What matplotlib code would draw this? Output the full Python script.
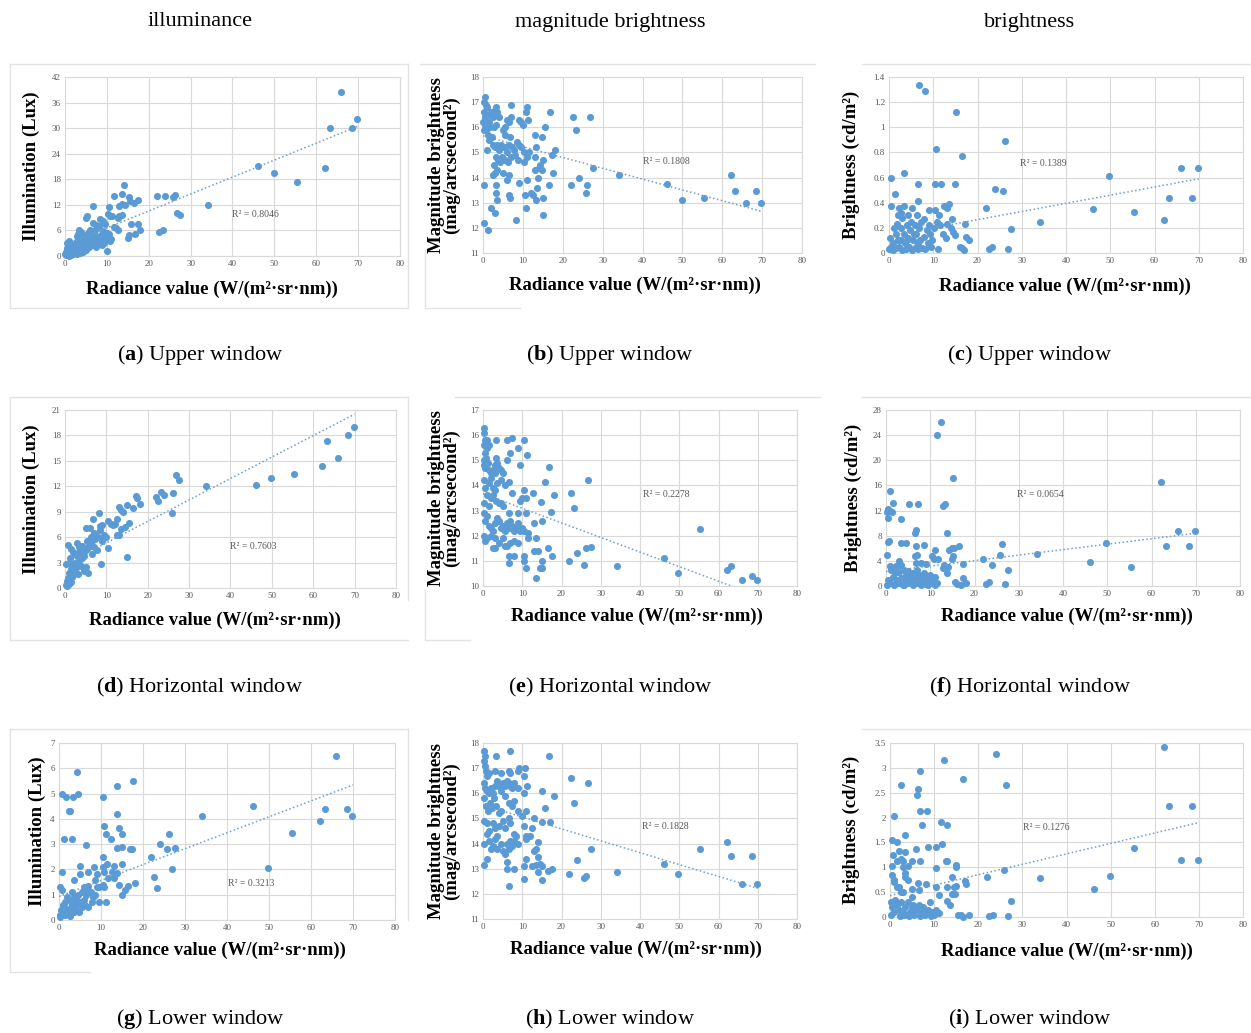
import matplotlib
matplotlib.use("Agg")
import matplotlib.pyplot as plt
from matplotlib.lines import Line2D
from matplotlib.ticker import FuncFormatter, MultipleLocator

plt.rcParams['font.family'] = ['Liberation Serif', 'DejaVu Serif']
plt.rcParams['mathtext.fontset'] = 'custom'
plt.rcParams['mathtext.rm'] = 'Liberation Serif'
plt.rcParams['mathtext.bf'] = 'Liberation Serif:bold'

W, H = 1251, 1033

# radiance of the bright sites (same sites in every panel)
rad_far = [22.0, 22.5, 23.3, 24.0, 25.8, 26.2, 26.8, 27.5, 34.1, 46.2, 49.8, 55.4, 62.2, 63.3, 66.0, 68.5, 69.8]

# (a) illumination, upper window
a_far = [14.0, 5.7, 6.2, 14.0, 13.8, 14.4, 10.0, 9.6, 12.0, 21.2, 19.4, 17.3, 20.7, 30.0, 38.5, 30.0, 32.2]
a_x = [14.0, 13.7, 11.8, 15.3, 17.5, 15.5, 16.5, 14.3, 13.0, 13.5, 10.5, 6.6, 5.0, 5.3, 10.3, 10.8, 11.3, 13.0, 13.6, 12.7,
       8.4, 9.0, 6.8, 7.4, 8.0, 9.5, 15.7, 17.4, 11.7, 12.2, 12.7, 18.0, 16.8, 15.0, 15.2, 10.0, 10.5, 10.0, 9.5, 11.0,
       10.8, 3.3, 3.0, 3.8, 2.8, 4.3, 5.0, 5.5, 6.0, 6.4, 7.0, 7.5, 8.0, 8.5, 9.0, 7.2, 7.8, 8.8, 9.3, 6.5,
       6.0, 5.5, 6.2, 1.0, 1.3, 0.5, 0.8, 1.5, 2.0, 2.3, 2.6, 3.0, 3.3, 3.7, 4.0, 4.5, 4.8, 5.2, 4.2, 3.5,
       2.8, 2.2, 1.7, 1.2, 0.8, 0.4, 0.2, 0.6, 1.0, 1.4, 2.0, 2.5, 3.0, 3.8, 4.5, 5.0, 0.3, 1.8, 0.1, 5.8,
       6.8, 7.5, 2.8, 1.5, 0.9, 3.5, 4.2, 4.6, 5.6, 6.6, 7.6, 8.6, 9.6, 3.6, 2.4, 1.1, 0.5, 6.9, 8.2, 9.8]
a_y = [16.7, 14.5, 14.0, 13.8, 13.1, 12.8, 12.4, 12.0, 11.8, 12.2, 11.4, 11.7, 9.0, 9.5, 9.8, 9.5, 9.3, 9.4, 9.6, 8.8,
       8.6, 8.2, 7.7, 7.2, 7.0, 7.5, 7.5, 7.5, 6.8, 6.5, 6.0, 6.2, 5.1, 4.3, 4.9, 1.1, 5.2, 5.5, 5.0, 4.0,
       3.5, 6.1, 5.2, 5.6, 4.7, 4.5, 4.8, 5.3, 6.0, 5.9, 5.5, 6.3, 4.5, 5.0, 5.8, 3.8, 3.2, 2.5, 3.0, 3.5,
       2.8, 3.8, 4.2, 3.5, 3.0, 1.8, 2.5, 2.3, 2.8, 2.0, 3.2, 3.8, 2.6, 3.3, 4.0, 3.5, 3.0, 2.6, 2.2, 1.8,
       1.5, 1.2, 1.0, 0.8, 0.6, 0.4, 0.2, 1.2, 1.6, 1.3, 0.5, 0.8, 1.1, 1.5, 1.8, 1.5, 0.9, 1.9, 0.5, 2.2,
       2.6, 2.2, 0.4, 0.2, 0.1, 0.7, 0.9, 4.1, 4.4, 4.8, 4.2, 4.0, 4.6, 2.3, 2.4, 2.6, 3.0, 3.2, 3.4, 3.9]

# (b) magnitude brightness, upper window
b_far = [13.7, 16.4, 15.9, 14.0, 13.4, 13.7, 16.4, 14.4, 14.1, 13.75, 13.1, 13.2, 14.1, 13.45, 13.0, 13.45, 13.0]
b_x = [0.5, 0.2, 0.8, 0.3, 0.6, 1.0, 1.3, 0.2, 0.4, 0.7, 1.0, 1.5, 1.8, 2.0, 2.5, 3.0, 3.2, 3.5, 4.0, 3.3,
       2.8, 1.2, 1.6, 2.2, 2.4, 0.3, 0.1, 7.0, 11.0, 10.8, 16.8, 9.0, 9.5, 10.0, 11.3, 6.0, 6.5, 5.5, 7.0, 15.6,
       5.0, 5.5, 13.0, 14.8, 18.0, 13.2, 6.8, 1.0, 3.0, 3.5, 4.0, 4.5, 5.0, 5.5, 6.0, 6.5, 7.2, 7.8, 8.5, 9.0,
       9.5, 10.2, 11.0, 11.5, 3.2, 3.8, 4.3, 4.8, 5.5, 6.2, 7.0, 8.0, 8.8, 10.3, 13.0, 14.2, 15.0, 17.2, 2.8, 3.5,
       2.5, 3.0, 14.0, 14.8, 13.8, 17.5, 13.0, 6.5, 6.0, 9.0, 11.0, 16.5, 13.5, 5.0, 0.3, 3.2, 3.3, 3.5, 6.5, 6.8,
       10.5, 12.0, 12.5, 13.3, 15.0, 2.0, 3.0, 10.8, 8.2, 15.0, 0.3, 1.3]
b_y = [17.2, 17.0, 16.9, 16.6, 16.4, 16.8, 16.5, 16.2, 16.0, 15.9, 16.1, 16.2, 16.0, 16.6, 16.4, 16.7, 16.8, 16.6, 16.4, 16.1,
       16.0, 15.7, 15.5, 15.6, 15.3, 15.9, 16.2, 16.9, 16.8, 16.6, 16.6, 16.3, 16.2, 16.1, 16.3, 16.3, 16.2, 16.0, 16.4, 16.0,
       15.9, 15.7, 15.7, 15.6, 15.1, 15.2, 15.6, 15.1, 15.2, 15.3, 15.1, 15.3, 15.2, 15.2, 15.0, 15.3, 15.2, 15.1, 15.4, 15.3,
       15.2, 15.0, 14.8, 15.0, 14.8, 14.7, 14.6, 14.8, 14.7, 14.6, 14.8, 14.9, 14.7, 14.6, 14.8, 14.5, 14.7, 14.9, 14.5, 14.3,
       14.1, 14.2, 14.4, 14.3, 14.0, 14.2, 14.3, 14.1, 13.9, 13.8, 13.9, 13.7, 13.6, 14.2, 13.7, 13.7, 13.4, 13.1, 13.3, 13.2,
       13.3, 13.4, 13.3, 13.1, 13.2, 12.8, 12.6, 12.8, 12.3, 12.5, 12.2, 11.9]

# (c) brightness, upper window
c_far = [0.36, 0.03, 0.05, 0.51, 0.49, 0.89, 0.03, 0.19, 0.25, 0.35, 0.61, 0.33, 0.26, 0.44, 0.68, 0.44, 0.68]
c_x = [6.8, 8.2, 15.2, 10.6, 16.4, 0.4, 3.5, 6.5, 10.3, 11.8, 14.9, 1.4, 0.5, 6.6, 2.3, 3.3, 5.3, 13.6, 13.0, 12.5,
       9.0, 10.5, 2.8, 6.3, 11.2, 14.2, 7.8, 17.2, 10.8, 13.0, 11.5, 14.0, 14.5, 15.0, 16.0, 16.5, 17.0, 18.0, 17.5, 11.0,
       9.5, 12.2, 12.8, 0.3, 0.5, 0.8, 1.2, 1.5, 1.8, 2.0, 2.3, 2.6, 3.0, 3.3, 3.6, 4.0, 4.2, 4.5, 4.8, 5.0,
       5.5, 5.8, 6.0, 6.2, 6.8, 7.0, 7.5, 8.0, 8.5, 8.8, 9.2, 9.8, 10.2, 1.0, 2.0, 3.8, 5.2, 6.6, 7.3, 0.1,
       1.6, 2.8, 4.4, 5.6, 8.2, 9.0, 3.0, 4.0, 6.5]
c_y = [1.34, 1.29, 1.12, 0.83, 0.77, 0.60, 0.64, 0.55, 0.55, 0.55, 0.55, 0.47, 0.37, 0.41, 0.36, 0.37, 0.36, 0.39, 0.36, 0.37,
       0.34, 0.34, 0.32, 0.30, 0.30, 0.27, 0.27, 0.23, 0.25, 0.23, 0.22, 0.20, 0.17, 0.14, 0.05, 0.04, 0.02, 0.10, 0.13, 0.03,
       0.05, 0.15, 0.12, 0.12, 0.05, 0.02, 0.20, 0.15, 0.23, 0.10, 0.05, 0.20, 0.28, 0.15, 0.08, 0.22, 0.12, 0.05, 0.18, 0.25,
       0.10, 0.22, 0.05, 0.15, 0.20, 0.10, 0.04, 0.13, 0.18, 0.08, 0.15, 0.10, 0.20, 0.08, 0.30, 0.03, 0.02, 0.03, 0.25, 0.03,
       0.04, 0.10, 0.30, 0.15, 0.03, 0.22, 0.02, 0.10, 0.08]

# (d) illumination, horizontal window
d_far = [10.7, 10.3, 11.3, 11.0, 8.8, 11.2, 13.3, 12.7, 12.0, 12.1, 13.0, 13.4, 14.4, 17.4, 15.3, 18.1, 19.0]
d_x = [8.3, 6.8, 9.0, 8.5, 10.5, 11.0, 11.5, 12.5, 13.0, 13.5, 14.0, 15.0, 17.2, 17.5, 18.2, 16.5, 15.5, 13.5, 12.5, 13.0,
       14.5, 12.0, 10.0, 10.5, 15.0, 8.8, 7.8, 5.0, 6.0, 7.0, 7.5, 8.0, 9.0, 9.5, 8.5, 6.5, 6.0, 5.5, 5.0, 4.5,
       4.0, 3.5, 3.0, 4.2, 5.2, 6.2, 7.2, 4.5, 4.0, 3.5, 3.0, 2.5, 2.8, 2.2, 2.0, 1.5, 1.0, 0.8, 1.2, 0.5,
       0.3, 0.6, 1.0, 1.5, 1.8, 2.0, 2.5, 0.2, 1.0, 0.7, 1.5, 5.5, 5.0, 4.5, 3.2, 3.8, 6.5, 7.0, 2.0, 2.5,
       3.5, 1.3]
d_y = [8.8, 8.1, 7.4, 7.3, 7.9, 7.5, 7.4, 8.1, 9.5, 9.2, 9.0, 9.8, 10.8, 10.6, 9.9, 9.4, 7.7, 7.0, 6.2, 6.2,
       7.2, 7.6, 6.0, 4.7, 3.7, 2.8, 4.5, 7.1, 7.1, 6.5, 6.2, 6.0, 5.5, 6.3, 6.8, 5.5, 5.0, 4.8, 4.5, 4.3,
       4.5, 4.8, 5.3, 5.0, 5.5, 6.0, 5.8, 3.8, 3.5, 3.2, 3.8, 3.0, 2.5, 2.0, 2.8, 2.2, 1.8, 1.2, 1.0, 0.8,
       0.4, 0.2, 0.5, 0.7, 1.3, 1.5, 1.8, 2.8, 2.9, 5.1, 4.6, 1.8, 2.5, 2.0, 1.6, 2.6, 4.0, 4.8, 4.2, 4.0,
       4.2, 3.5]

# (e) magnitude brightness, horizontal window
e_far = [11.0, 13.7, 13.1, 11.3, 10.85, 11.5, 14.2, 11.55, 10.8, 11.1, 10.5, 12.25, 10.65, 10.8, 10.25, 10.4, 10.25]
e_x = [0.2, 0.3, 0.5, 1.0, 1.5, 0.2, 0.6, 1.0, 0.3, 0.8, 1.2, 0.2, 0.5, 1.5, 2.0, 2.5, 3.0, 3.2, 3.5, 4.0,
       4.5, 3.0, 5.0, 3.3, 6.0, 7.5, 10.5, 8.8, 7.0, 6.0, 11.2, 9.5, 16.7, 0.2, 1.5, 2.0, 2.5, 3.5, 4.5, 6.5,
       5.5, 15.7, 7.5, 0.5, 1.0, 0.3, 1.5, 2.0, 2.5, 3.0, 3.3, 4.0, 4.5, 5.0, 6.5, 7.0, 9.0, 9.5, 10.0, 10.5,
       11.0, 12.8, 14.8, 18.2, 17.3, 11.0, 13.0, 0.2, 0.5, 1.0, 1.5, 2.0, 2.5, 3.0, 3.5, 4.0, 4.5, 5.0, 5.5, 6.0,
       6.5, 7.5, 8.0, 8.5, 9.0, 9.5, 10.0, 10.5, 11.5, 15.0, 0.2, 0.5, 1.0, 2.0, 3.0, 4.0, 5.0, 6.0, 7.0, 8.0,
       9.0, 11.5, 13.5, 2.5, 3.0, 5.5, 6.5, 8.0, 10.5, 10.5, 13.0, 14.0, 16.5, 17.5, 15.0, 15.0, 6.5, 11.0, 14.5, 13.5]
e_y = [16.3, 16.1, 15.8, 15.8, 15.6, 15.6, 15.3, 15.5, 15.0, 15.1, 14.9, 14.8, 14.7, 14.6, 14.5, 14.6, 14.8, 15.1, 14.9, 14.7,
       14.6, 14.5, 14.5, 15.8, 15.8, 15.9, 15.8, 15.5, 15.3, 15.0, 15.2, 14.8, 14.75, 14.2, 14.1, 14.3, 13.9, 14.1, 14.2, 14.15,
       14.0, 14.15, 13.7, 13.9, 13.6, 13.3, 13.2, 13.5, 13.6, 13.8, 13.4, 13.3, 13.3, 13.2, 12.9, 12.6, 12.9, 13.4, 13.5, 13.8,
       13.5, 13.7, 13.35, 13.6, 12.95, 12.9, 12.5, 12.9, 12.6, 12.8, 12.4, 12.3, 12.2, 12.5, 12.7, 12.6, 12.3, 12.4, 12.2, 12.5,
       12.3, 12.4, 12.2, 12.3, 12.5, 12.2, 12.3, 12.2, 12.1, 12.6, 12.0, 11.8, 11.9, 12.0, 11.9, 11.7, 11.9, 11.6, 11.7, 11.8,
       11.7, 11.9, 11.9, 11.5, 11.5, 11.6, 11.2, 11.2, 11.0, 11.2, 11.4, 11.4, 11.5, 11.2, 11.0, 10.7, 10.9, 10.7, 10.7, 10.3]

# (f) brightness, horizontal window
f_far = [4.3, 0.3, 0.6, 3.3, 5.0, 6.7, 0.3, 2.6, 5.1, 3.8, 6.8, 3.1, 16.5, 6.3, 8.7, 6.3, 8.7]
f_x = [12.5, 11.6, 15.2, 0.8, 0.5, 0.8, 0.3, 1.3, 0.5, 1.5, 5.2, 7.3, 12.9, 13.3, 3.3, 0.5, 0.6, 6.5, 6.7, 13.7,
       3.5, 4.5, 6.8, 8.5, 16.6, 15.0, 15.3, 14.3, 0.2, 6.5, 7.0, 11.0, 10.5, 10.8, 11.8, 15.0, 15.2, 17.5, 13.0, 13.5,
       13.8, 14.0, 12.8, 8.0, 9.0, 6.8, 2.2, 3.0, 3.5, 0.8, 1.2, 2.0, 2.5, 3.0, 4.0, 4.5, 5.0, 5.5, 6.0, 7.0,
       7.5, 8.0, 8.5, 9.0, 9.5, 10.0, 10.5, 11.0, 11.5, 0.5, 1.0, 1.5, 2.0, 2.5, 3.0, 3.5, 4.0, 4.5, 5.0, 5.5,
       6.0, 6.5, 7.0, 7.5, 8.0, 8.5, 9.0, 9.5, 10.0, 11.0, 0.2, 1.8, 3.8, 15.5, 16.0, 17.0, 17.3, 18.0]
f_y = [26.1, 24.0, 17.2, 15.1, 12.3, 12.0, 11.8, 11.7, 10.8, 13.2, 13.0, 13.1, 12.8, 13.0, 10.6, 7.0, 7.2, 8.5, 8.9, 8.4,
       6.8, 6.8, 6.3, 6.5, 6.4, 6.0, 6.1, 5.8, 5.0, 4.8, 5.0, 5.8, 4.8, 4.3, 4.3, 4.3, 4.7, 3.5, 3.3, 3.0,
       2.0, 3.1, 2.9, 3.7, 3.5, 3.7, 3.2, 4.0, 3.3, 3.2, 2.5, 2.0, 2.8, 2.3, 2.5, 1.8, 2.4, 1.5, 2.0, 2.6,
       1.7, 1.2, 2.0, 1.5, 1.0, 1.7, 0.8, 1.4, 0.5, 1.0, 0.5, 1.5, 0.3, 1.0, 0.5, 1.3, 0.2, 0.8, 0.4, 0.9,
       0.2, 1.3, 0.4, 0.8, 0.2, 0.6, 0.3, 0.1, 0.5, 0.2, 0.2, 0.1, 0.1, 0.6, 0.3, 0.2, 1.3, 0.4]

# (g) illumination, lower window
g_far = [2.5, 1.7, 1.25, 3.0, 2.8, 3.4, 2.0, 2.85, 4.1, 4.5, 2.05, 3.45, 3.9, 4.4, 6.5, 4.4, 4.1]
g_x = [4.3, 17.5, 13.7, 0.8, 4.6, 1.7, 3.3, 10.5, 2.4, 2.6, 13.7, 10.6, 14.3, 11.2, 15.0, 12.4, 1.1, 3.2, 6.5, 13.8,
       15.0, 16.8, 17.3, 10.4, 0.8, 5.0, 8.3, 11.5, 13.2, 15.0, 10.5, 3.5, 7.0, 9.0, 4.9, 12.5, 13.0, 13.7, 11.7, 10.8,
       0.3, 0.6, 14.3, 10.5, 10.7, 16.5, 18.0, 15.0, 15.8, 11.3, 9.5, 9.0, 8.5, 8.0, 7.5, 7.0, 6.5, 6.0, 5.5, 5.0,
       4.5, 4.0, 3.5, 3.0, 2.5, 2.0, 1.5, 1.0, 0.5, 0.3, 0.8, 1.2, 1.8, 2.2, 2.8, 3.2, 3.8, 4.2, 4.8, 5.5,
       6.2, 7.0, 7.8, 0.2, 1.5, 2.5, 3.5, 6.0, 6.8, 8.5, 9.5]
g_y = [5.85, 5.5, 5.3, 5.0, 5.0, 4.85, 4.85, 4.85, 4.3, 4.3, 4.2, 3.7, 3.65, 3.4, 3.4, 3.2, 3.2, 3.2, 2.95, 2.85,
       2.9, 2.8, 2.8, 2.5, 1.9, 2.15, 2.1, 2.2, 2.15, 2.2, 2.1, 1.6, 1.9, 1.8, 1.8, 1.9, 1.65, 1.85, 1.65, 1.9,
       1.3, 1.2, 1.4, 1.4, 1.3, 1.35, 1.45, 1.0, 1.2, 0.7, 0.7, 1.3, 1.0, 0.9, 1.1, 1.2, 1.0, 0.8, 1.1, 0.7,
       1.0, 0.8, 0.9, 1.1, 0.8, 0.9, 0.7, 0.6, 0.4, 0.2, 0.3, 0.5, 0.4, 0.3, 0.5, 0.6, 0.4, 0.6, 0.3, 0.5,
       0.6, 0.5, 0.7, 0.1, 0.2, 0.15, 0.3, 1.3, 1.35, 1.6, 1.3]

# (h) magnitude brightness, lower window
h_far = [12.8, 16.6, 15.6, 13.35, 12.65, 12.7, 16.4, 13.8, 12.85, 13.2, 12.8, 13.8, 14.05, 13.5, 12.4, 13.5, 12.4]
h_x = [0.2, 0.4, 0.3, 0.5, 3.3, 6.8, 16.7, 0.8, 1.0, 1.5, 3.0, 4.5, 6.5, 7.0, 8.8, 9.2, 10.7, 10.5, 0.2, 0.5,
       1.0, 1.5, 2.0, 2.5, 3.0, 3.5, 4.0, 4.5, 5.0, 5.5, 6.0, 6.5, 7.0, 7.5, 8.0, 9.0, 10.5, 11.2, 15.0, 18.0,
       0.3, 0.8, 1.2, 1.8, 2.2, 2.8, 3.2, 4.0, 4.5, 5.5, 6.5, 7.5, 8.0, 9.0, 10.0, 11.0, 15.8, 0.3, 1.0, 1.5,
       2.5, 3.0, 3.5, 4.0, 5.0, 5.5, 6.5, 7.0, 8.0, 8.5, 10.5, 11.0, 12.5, 13.0, 15.0, 17.0, 0.3, 1.0, 1.5, 2.0,
       2.5, 3.0, 3.5, 4.5, 5.0, 5.5, 6.0, 6.5, 7.0, 7.5, 8.0, 9.0, 11.0, 12.0, 14.0, 13.0, 13.5, 1.0, 0.2, 6.0,
       6.2, 8.0, 10.5, 11.0, 12.5, 13.5, 14.0, 15.0, 14.5, 17.5, 16.5, 14.0, 10.5, 15.0, 6.5]
h_y = [17.7, 17.5, 17.3, 17.1, 17.5, 17.7, 17.5, 16.9, 16.7, 16.8, 16.9, 16.8, 16.9, 16.8, 16.9, 17.0, 17.0, 16.7, 16.4, 16.2,
       16.1, 16.0, 16.2, 16.0, 16.3, 16.5, 16.3, 16.1, 16.4, 16.3, 16.5, 16.4, 16.3, 16.2, 16.4, 16.2, 16.0, 16.3, 16.1, 15.9,
       15.8, 15.5, 15.3, 15.6, 15.4, 15.8, 15.5, 15.2, 15.3, 15.9, 15.6, 15.5, 15.7, 15.3, 15.1, 15.3, 15.4, 14.9, 14.8, 14.5,
       14.8, 14.6, 14.3, 14.7, 14.9, 14.6, 15.0, 14.8, 14.4, 14.3, 14.7, 14.3, 14.6, 15.0, 14.85, 14.85, 14.0, 14.4, 14.1, 13.8,
       13.9, 14.2, 13.8, 14.0, 13.7, 13.6, 14.0, 13.8, 14.1, 13.9, 14.1, 14.0, 14.2, 14.3, 14.05, 13.7, 13.8, 13.4, 13.15, 13.25,
       13.0, 13.0, 13.1, 13.4, 13.1, 13.15, 13.45, 13.1, 13.2, 13.0, 12.9, 12.85, 12.6, 12.55, 12.3]

# (i) brightness, lower window
i_far = [0.8, 0.03, 0.05, 3.28, 0.95, 2.65, 0.03, 0.33, 0.78, 0.57, 0.82, 1.38, 3.42, 2.23, 1.15, 2.23, 1.15]
i_x = [12.3, 6.9, 16.5, 2.6, 6.4, 6.2, 6.7, 8.4, 1.0, 11.5, 13.0, 7.3, 3.4, 0.4, 1.6, 11.8, 10.5, 8.7, 6.0, 2.1,
       3.3, 0.7, 12.8, 13.0, 6.7, 1.5, 2.5, 3.0, 5.0, 15.0, 15.0, 4.0, 10.5, 0.5, 3.0, 3.5, 0.5, 0.8, 1.0, 2.0,
       2.5, 3.0, 3.5, 4.0, 1.5, 6.3, 8.2, 10.5, 13.0, 14.0, 14.5, 15.0, 17.0, 17.3, 5.0, 6.5, 11.0, 14.0, 14.8, 13.0,
       13.5, 5.0, 0.2, 0.5, 1.0, 1.5, 2.0, 2.5, 3.0, 3.5, 4.0, 4.5, 5.0, 5.5, 6.0, 6.5, 7.0, 7.5, 8.0, 8.5,
       9.0, 9.5, 10.0, 10.5, 11.0, 0.3, 1.2, 2.2, 3.2, 4.2, 5.2, 6.8, 7.8, 9.2, 15.5, 16.0, 16.5, 18.0]
i_y = [3.16, 2.93, 2.77, 2.65, 2.58, 2.46, 2.13, 2.14, 2.03, 1.92, 1.85, 1.85, 1.65, 1.55, 1.5, 1.46, 1.40, 1.40, 1.37, 1.33,
       1.3, 1.25, 1.12, 1.12, 1.13, 1.12, 1.17, 1.13, 1.13, 1.04, 1.0, 1.02, 0.99, 1.02, 1.0, 0.88, 0.85, 0.75, 0.7, 0.6,
       0.5, 0.5, 0.8, 0.75, 0.6, 0.69, 0.66, 0.61, 0.61, 0.8, 0.6, 0.62, 0.73, 0.66, 0.57, 0.55, 0.45, 0.47, 0.47, 0.33,
       0.25, 0.4, 0.3, 0.2, 0.1, 0.25, 0.15, 0.3, 0.1, 0.2, 0.3, 0.1, 0.2, 0.05, 0.15, 0.25, 0.1, 0.2, 0.05, 0.15,
       0.3, 0.1, 0.05, 0.15, 0.08, 0.05, 0.35, 0.02, 0.05, 0.02, 0.25, 0.02, 0.12, 0.03, 0.05, 0.05, 0.0, 0.05]

# linear trendlines: (intercept, slope) and R^2 labels
trends = [(2.6, 0.398), (15.66, -0.043), (0.135, 0.0065),
          (2.8, 0.253), (13.67, -0.058), (2.3, 0.087),
          (0.93, 0.063), (15.53, -0.0473), (0.43, 0.021)]
r2_labels = ["R² = 0.8046", "R² = 0.1808", "R² = 0.1389",
             "R² = 0.7603", "R² = 0.2278", "R² = 0.0654",
             "R² = 0.3213", "R² = 0.1828", "R² = 0.1276"]
r2_pos = [(39.8, 9.7), (40.2, 14.63), (29.7, 0.713),
          (39.9, 4.84), (40.7, 13.65), (29.7, 14.6),
          (40.3, 1.45), (40.4, 14.67), (30.2, 1.80)]

col_titles = ["illuminance", "magnitude brightness", "brightness"]
captions = [("a", "Upper window"), ("b", "Upper window"), ("c", "Upper window"),
            ("d", "Horizontal window"), ("e", "Horizontal window"), ("f", "Horizontal window"),
            ("g", "Lower window"), ("h", "Lower window"), ("i", "Lower window")]
ylabels = ["Illumination (Lux)", "Magnitude brightness\n(mag/arcsecond²)", "Brightness (cd/m²)"]
ylims = [(0, 42, 6), (11, 18, 1), (0, 1.4, 0.2),
         (0, 21, 3), (10, 17, 1), (0, 28, 4),
         (0, 7, 1), (11, 18, 1), (0, 3.5, 0.5)]

near_x = [a_x, b_x, c_x, d_x, e_x, f_x, g_x, h_x, i_x]
near_y = [a_y, b_y, c_y, d_y, e_y, f_y, g_y, h_y, i_y]
far_y = [a_far, b_far, c_far, d_far, e_far, f_far, g_far, h_far, i_far]

# pixel boxes of the plot areas: x0, x1, ytop, ybottom
boxes = [(65, 400, 77, 256), (483, 802, 77, 253), (889, 1243, 77, 253),
         (65, 396, 410, 588), (483, 797, 410, 586), (886, 1240, 410, 586),
         (59, 395, 743, 920), (483, 797, 743, 919), (890, 1243, 743, 917)]
xlab_pos = [(212, 289), (635, 285), (1065, 286),
            (215, 620), (637, 616), (1067, 616),
            (220, 950), (636, 949), (1067, 951)]
ylab_x = [31, 444, 851, 31, 444, 853, 37, 444, 851]

BLUE = "#5b9bd5"
GRID = "#d9d9d9"
TICK = "#595959"


def fx(x):
    return x / W


def fy(y):
    return 1 - y / H


fig = plt.figure(figsize=(W / 100, H / 100), dpi=100)

for k in range(9):
    x0, x1, yt, yb = boxes[k]
    ax = fig.add_axes([fx(x0), fy(yb), (x1 - x0) / W, (yb - yt) / H])
    lo, hi, step = ylims[k]
    ax.scatter(near_x[k], near_y[k], s=26, color=BLUE, linewidths=0, zorder=3, clip_on=False)
    ax.scatter(rad_far, far_y[k], s=26, color=BLUE, linewidths=0, zorder=3, clip_on=False)
    b0, b1 = trends[k]
    ax.plot([0, 70], [b0, b0 + b1 * 70], color="#6f9fc9", lw=1.1, ls=(0, (1, 1.6)), zorder=4)
    ax.text(r2_pos[k][0], r2_pos[k][1], r2_labels[k], fontsize=7, color=TICK, va="center", ha="left", zorder=5)
    ax.set_xlim(0, 80)
    ax.set_ylim(lo, hi)
    ax.xaxis.set_major_locator(MultipleLocator(10))
    ax.yaxis.set_major_locator(MultipleLocator(step))
    ax.yaxis.set_major_formatter(FuncFormatter(lambda v, p: f"{round(v, 2):g}"))
    ax.grid(True, color=GRID, lw=0.8, zorder=0)
    ax.set_axisbelow(True)
    for sp in ax.spines.values():
        sp.set_color(GRID)
        sp.set_linewidth(0.8)
    ax.tick_params(length=0, labelsize=6.5, labelcolor=TICK, pad=3)

    col = k % 3
    fig.text(fx(xlab_pos[k][0]), fy(xlab_pos[k][1]), "Radiance value (W/(m²·sr·nm))",
             fontsize=13.5, fontweight="bold", ha="center", va="center")
    ycen = (yt + yb) / 2
    fig.text(fx(ylab_x[k]), fy(ycen), ylabels[col], fontsize=13.5, fontweight="bold",
             rotation=90, ha="center", va="center", linespacing=0.9)

    row = k // 3
    cx = [200, 610, 1030][col]
    cy = [355, 687, 1019][row]
    letter, words = captions[k]
    fig.text(fx(cx), fy(cy), r"($\mathbf{" + letter + r"}$) " + words, fontsize=16, ha="center", va="center")

for col in range(3):
    fig.text(fx([200, 610, 1030][col]), fy(22), col_titles[col], fontsize=16, ha="center", va="center")

# light chart-area frames
frame_lines = [((10, 64), (408, 64)), ((10, 64), (10, 308)), ((10, 308), (408, 308)), ((408, 64), (408, 308)),
               ((420, 64), (815, 64)), ((425, 250), (425, 308)), ((425, 308), (520, 308)),
               ((862, 64), (1251, 64)),
               ((10, 397), (408, 397)), ((10, 397), (10, 640)), ((10, 640), (408, 640)), ((408, 397), (408, 600)),
               ((455, 397), (820, 397)), ((425, 590), (425, 640)), ((425, 640), (470, 640)),
               ((862, 397), (1251, 397)),
               ((10, 729), (408, 729)), ((10, 729), (10, 972)), ((10, 972), (90, 972)), ((408, 729), (408, 920)),
               ((862, 729), (1251, 729))]
for (xa, ya), (xb, yb2) in frame_lines:
    fig.add_artist(Line2D([fx(xa), fx(xb)], [fy(ya), fy(yb2)], color="#e3e3e3", lw=1.0))

fig.savefig("out.png", dpi=100, facecolor="white")
